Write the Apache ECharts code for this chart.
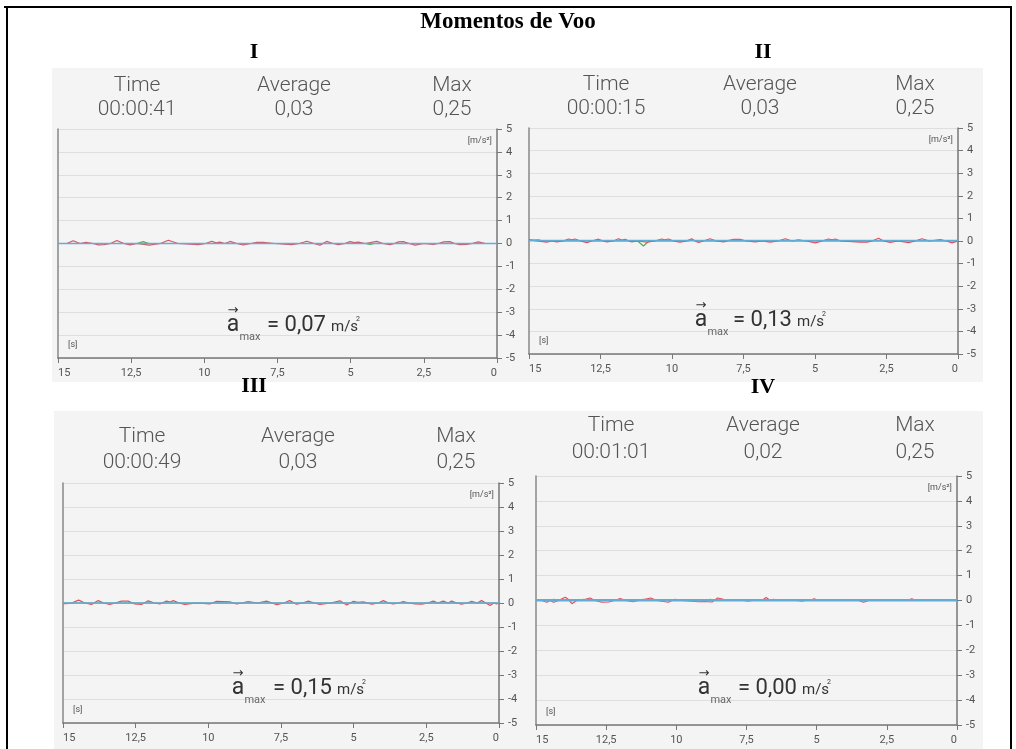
<!DOCTYPE html>
<html>
<head>
<meta charset="utf-8">
<title>Momentos de Voo</title>
<script src="https://cdn.jsdelivr.net/npm/echarts@6/dist/echarts.min.js"></script>
<style>
html, body { margin: 0; padding: 0; background: #fff; }
#main { width: 1016px; height: 749px; }
</style>
</head>
<body>
<div id="main"></div>
<script>
// texts of the four screens
var panelNames = ['I', 'II', 'III', 'IV'];
var timeVals = ['00:00:41', '00:00:15', '00:00:49', '00:01:01'];
var avgVals = ['0,03', '0,03', '0,03', '0,02'];
var maxVals = ['0,25', '0,25', '0,25', '0,25'];
var aMaxVals = ['0,07', '0,13', '0,15', '0,00'];

// [time s, acceleration m/s2]
var redI = [[15,0],[14.7,0],[14.48,0.12],[14.25,0],[14.04,0.05],[13.8,0],[13.62,-0.06],[13.43,-0.05],[13.2,0],[12.99,0.13],[12.75,0],[12.54,-0.06],[12.3,0],[11.88,-0.07],[11.5,0],[11.23,0.14],[10.9,0],[10.21,-0.05],[9.95,0],[9.75,0.1],[9.6,0.03],[9.47,0.06],[9.3,0],[9.12,0.09],[8.9,0],[8.67,-0.06],[8.4,0],[8.21,0.05],[7.99,0.05],[7.6,0],[7.02,-0.05],[6.75,0],[6.5,0.1],[6.25,0],[6.05,-0.07],[5.82,0.09],[5.6,0],[5.42,-0.05],[5.2,0],[5.02,0.08],[4.88,0.04],[4.74,0.06],[4.5,0],[4.11,0.09],[3.9,0],[3.66,-0.05],[3.5,0],[3.37,0.07],[3.2,0.08],[3.0,0],[2.8,-0.07],[2.5,0],[2.18,-0.04],[2.0,0],[1.82,0.07],[1.61,0.08],[1.45,0],[1.27,-0.05],[1.04,-0.04],[0.85,0],[0.64,0.07],[0.4,0],[0,0]];
var greenI = [[15,0],[12.3,0],[12.09,0.08],[11.9,0],[4.5,0],[4.34,-0.04],[4.2,0],[0,0]];
var blueI = [[15,0],[0,0]];

var redII = [[15,0.06],[14.8,0.02],[14.38,-0.05],[14.2,0],[14.03,-0.04],[13.8,0],[13.62,0.09],[13.5,0.05],[13.39,0.09],[13.2,0],[12.98,-0.07],[12.8,0],[12.57,0.08],[12.4,0],[12.28,-0.04],[12.05,0],[11.87,0.1],[11.75,0.04],[11.64,0.07],[11.5,0],[11.41,-0.04],[11.2,0],[10.88,-0.05],[10.6,0],[10.36,0.09],[10.25,0.05],[10.12,0.09],[9.95,0],[9.72,-0.05],[9.5,0],[9.31,0.1],[9.2,0],[9.07,-0.06],[8.9,0],[8.67,0.1],[8.45,0],[8.2,-0.04],[8.0,0.03],[7.85,0.07],[7.62,0.07],[7.4,0],[7.09,-0.04],[6.85,0],[6.57,-0.05],[6.3,0],[6.04,0.1],[5.8,0],[5.58,0.05],[5.3,0],[4.99,-0.08],[4.75,0],[4.53,0.09],[4.4,0.05],[4.29,0.09],[4.1,0],[3.42,-0.05],[3.18,-0.05],[3.0,0],[2.78,0.12],[2.6,0],[2.37,-0.06],[2.1,0],[1.73,-0.07],[1.5,0],[1.26,0.1],[1.0,0],[0.62,0.06],[0.4,0],[0.21,-0.08],[0,0]];
var greenII = [[15,0.03],[14.67,0.05],[14.5,0],[11.2,0],[11.0,-0.22],[10.8,0],[9.45,0],[9.31,0.04],[9.1,0],[0,0]];
var blueII = [[15,0.02],[0,0.02]];

var redIII = [[15,-0.03],[14.89,-0.03],[14.7,0],[14.46,0.12],[14.25,0],[14.02,-0.06],[13.79,0.1],[13.6,0],[13.39,-0.06],[13.2,0],[12.99,0.08],[12.76,0.08],[12.53,-0.04],[12.3,-0.06],[12.07,0.09],[11.85,0],[11.67,-0.04],[11.44,0.08],[11.3,0.04],[11.21,0.1],[11.0,0],[10.81,-0.06],[10.4,0],[9.95,-0.04],[9.72,0.07],[9.49,0.06],[9.26,0.05],[9.03,-0.04],[8.85,0],[8.63,0.06],[8.3,0],[8.0,0.08],[7.8,0],[7.65,-0.07],[7.4,0],[7.2,0.1],[6.97,-0.05],[6.75,0],[6.56,0.08],[6.35,0],[6.16,-0.06],[5.8,0],[5.47,0.09],[5.24,-0.08],[5.01,0.07],[4.85,0.03],[4.67,0.05],[4.38,-0.05],[4.15,0],[3.98,0.1],[3.8,0],[3.64,-0.04],[3.45,0],[3.29,0.06],[3.1,0],[2.89,-0.04],[2.66,-0.05],[2.45,0],[2.26,0.08],[2.1,0],[1.92,0.08],[1.75,0],[1.63,0.08],[1.45,0],[1.29,-0.05],[1.1,0],[0.94,0.07],[0.75,0],[0.6,0.1],[0.45,0],[0.31,-0.1],[0.18,0],[0.08,-0.04],[0,0]];
var greenIII = [[15,0],[0,0]];
var blueIII = [[15,0],[0,0]];

var redIV = [[15,0.04],[14.8,0],[14.61,-0.07],[14.5,0],[14.37,-0.07],[14.2,0],[13.96,0.13],[13.85,0.05],[13.72,-0.13],[13.55,0],[13.3,0.03],[13.07,0.1],[12.9,0],[12.65,-0.07],[12.41,-0.06],[12.2,0],[12.0,0.08],[11.8,0],[11.55,-0.05],[11.35,0],[11.17,0.04],[10.91,0.1],[10.7,0],[10.28,-0.07],[10.15,0],[10.04,0.05],[9.8,0],[9.21,-0.05],[8.97,-0.04],[8.73,-0.06],[8.53,0.1],[8.32,0.05],[8.1,0],[6.95,0],[6.8,0.12],[6.65,0],[6.54,0.05],[6.35,0],[5.25,0],[5.09,0.07],[4.9,0],[3.5,0],[3.33,-0.07],[3.15,0],[1.8,0],[1.61,0.07],[1.45,0],[0,0]];
var greenIV = [[15,0],[14.5,0],[14.37,0.05],[14.2,0],[13.45,0],[13.3,0.05],[13.15,0],[11.35,0],[11.17,0.05],[11.0,0],[10.2,0],[10.04,0.04],[9.9,0],[8.95,0],[8.79,0.05],[8.6,0],[7.6,0],[7.43,-0.03],[7.3,0],[5.7,0],[5.53,-0.03],[5.4,0],[0,0]];
var blueIV = [[15,0.01],[0,0.01]];

var redData = [redI, redII, redIII, redIV];
var greenData = [greenI, greenII, greenIII, greenIV];
var blueData = [blueI, blueII, blueIII, blueIV];

// where each screenshot sits on the page
var panels = [
    {bg: [52, 68, 470, 314], grid: {left: 58, top: 129, width: 439, height: 229}, head: [137, 294, 452], headY: [86, 110], label: [254, 52], aX: 233, eqX: 267, fY: 325, blueW: 1.5},
    {bg: [510, 68, 473, 314], grid: {left: 529, top: 128, width: 429, height: 226}, head: [606, 760, 915], headY: [85, 109], label: [763, 52], aX: 701, eqX: 733, fY: 320, blueW: 1.5},
    {bg: [54, 411, 475, 338], grid: {left: 63, top: 483, width: 436, height: 240}, head: [142, 298, 456], headY: [437, 463], label: [254, 386], aX: 238, eqX: 273, fY: 688, blueW: 1.5},
    {bg: [529, 411, 454, 338], grid: {left: 536, top: 476, width: 421, height: 249}, head: [611, 763, 915], headY: [426, 453], label: [763, 387], aX: 704, eqX: 738, fY: 688, blueW: 2.5}
];

var myChart = echarts.init(document.getElementById('main'));

var grids = [], xAxes = [], yAxes = [], series = [], graphics = [];
var headFont = '300 21px Roboto';

function txt(text, x, y, font, fill, align, z) {
    return {
        type: 'text', z: z || 5, silent: true,
        style: {text: text, x: x, y: y, font: font, fill: fill, align: align || 'center', verticalAlign: 'middle'}
    };
}

// outer frame and title
graphics.push({type: 'line', z: 5, shape: {x1: 4, y1: 7, x2: 1012, y2: 7}, style: {stroke: '#000', lineWidth: 2}});
graphics.push({type: 'line', z: 5, shape: {x1: 7, y1: 7, x2: 7, y2: 749}, style: {stroke: '#000', lineWidth: 2}});
graphics.push({type: 'line', z: 5, shape: {x1: 1011, y1: 7, x2: 1011, y2: 749}, style: {stroke: '#000', lineWidth: 2}});
graphics.push(txt('Momentos de Voo', 508, 22, 'bold 23px "Liberation Serif"', '#000'));

for (var i = 0; i < panels.length; i++) {
    var p = panels[i];
    var g = p.grid;
    graphics.push({type: 'rect', z: -10, silent: true, shape: {x: p.bg[0], y: p.bg[1], width: p.bg[2], height: p.bg[3]}, style: {fill: '#f4f4f4'}});
    graphics.push(txt(panelNames[i], p.label[0], p.label[1], 'bold 22px "Liberation Serif"', '#000'));
    graphics.push(txt('Time', p.head[0], p.headY[0], headFont, '#555'));
    graphics.push(txt(timeVals[i], p.head[0], p.headY[1], headFont, '#555'));
    graphics.push(txt('Average', p.head[1], p.headY[0], headFont, '#555'));
    graphics.push(txt(avgVals[i], p.head[1], p.headY[1], headFont, '#555'));
    graphics.push(txt('Max', p.head[2], p.headY[0], headFont, '#555'));
    graphics.push(txt(maxVals[i], p.head[2], p.headY[1], headFont, '#555'));
    graphics.push(txt('[m/s²]', g.left + g.width - 5, g.top + 12, '9px Roboto', '#555', 'right'));
    graphics.push(txt('[s]', g.left + 10, g.top + g.height - 13, '9px Roboto', '#555', 'left'));
    // a_max formula
    graphics.push(txt('a', p.aX, p.fY, '23px Roboto', '#333'));
    graphics.push(txt('→', p.aX, p.fY - 14, '13px "DejaVu Sans"', '#333'));
    graphics.push(txt('max', p.aX + 17, p.fY + 12, '11px Roboto', '#666'));
    graphics.push(txt('= ' + aMaxVals[i], p.eqX, p.fY, '22px Roboto', '#333', 'left'));
    graphics.push(txt('m/s', p.eqX + 64, p.fY + 2, '15px Roboto', '#333', 'left'));
    graphics.push(txt('2', p.eqX + 89, p.fY - 6, '7px Roboto', '#333', 'left'));

    grids.push({left: g.left, top: g.top, width: g.width, height: g.height, containLabel: false});
    xAxes.push({
        type: 'value', gridIndex: i, min: 0, max: 15, interval: 2.5, inverse: true, position: 'bottom',
        axisLine: {show: true, onZero: false, lineStyle: {color: '#777', width: 1.5}},
        axisTick: {show: true, length: 5, lineStyle: {color: '#777'}},
        axisLabel: {color: '#555', fontSize: 11, fontFamily: 'Roboto', margin: 10,
            alignMinLabel: 'right', alignMaxLabel: 'left',
            formatter: function (v) { return String(v).replace('.', ','); }},
        splitLine: {show: false}
    });
    yAxes.push({
        type: 'value', gridIndex: i, min: -5, max: 5, interval: 1, position: 'right',
        axisLine: {show: true, onZero: false, lineStyle: {color: '#777', width: 1.5}},
        axisTick: {show: true, length: 5, lineStyle: {color: '#777'}},
        axisLabel: {color: '#555', fontSize: 11, fontFamily: 'Roboto', margin: 9},
        splitLine: {show: true, lineStyle: {color: '#dedede'}}
    });
    yAxes.push({
        type: 'value', gridIndex: i, min: -5, max: 5, position: 'left',
        axisLine: {show: true, onZero: false, lineStyle: {color: '#888', width: 1.5}},
        axisTick: {show: false}, axisLabel: {show: false}, splitLine: {show: false}
    });

    series.push({type: 'line', xAxisIndex: i, yAxisIndex: 2 * i, data: greenData[i], showSymbol: false, silent: true,
        lineStyle: {color: '#4caf50', width: 1.2}, z: 2});
    series.push({type: 'line', xAxisIndex: i, yAxisIndex: 2 * i, data: redData[i], showSymbol: false, silent: true,
        lineStyle: {color: '#e0505a', width: 1.2}, z: 3});
    series.push({type: 'line', xAxisIndex: i, yAxisIndex: 2 * i, data: blueData[i], showSymbol: false, silent: true,
        lineStyle: {color: '#62acd8', width: p.blueW}, z: 4});
}

var option = {
    backgroundColor: '#fff',
    animation: false,
    grid: grids,
    xAxis: xAxes,
    yAxis: yAxes,
    series: series,
    graphic: {elements: graphics}
};
myChart.setOption(option);
</script>
</body>
</html>
